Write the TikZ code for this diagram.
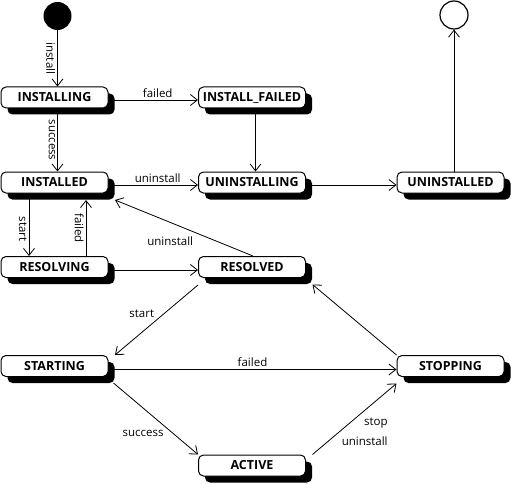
\documentclass[tikz,border=0pt]{standalone}
\usepackage{fontspec}
\usepackage{tikz}
\usetikzlibrary{shadows}
\usetikzlibrary{arrows.meta,arrows}
\setmainfont{Open Sans}

\tikzset{
  bundlestate/.style={draw, line width=1pt, fill=white, rounded corners=5pt,
    minimum width=107pt, minimum height=21pt, inner sep=0pt,
    font=\fontsize{12.5}{14}\selectfont\bfseries,
    drop shadow={shadow xshift=6.5pt, shadow yshift=-6.5pt, fill=black, opacity=1}},
  initstate/.style={circle, fill=black, minimum size=28pt, inner sep=0pt},
  finalstate/.style={circle, draw, line width=1.2pt, fill=white, minimum size=28pt, inner sep=0pt},
  transition/.style={-{Straight Barb[length=7pt,width=11pt]}, line width=0.8pt},
  trlabel/.style={font=\fontsize{11.5}{13}\selectfont, inner sep=2pt},
  vlabel/.style={trlabel, rotate=-90, anchor=north},
}

\begin{document}
\begin{tikzpicture}[x=1pt, y=-1pt]
\useasboundingbox (0,0) rectangle (511,484);

\node[initstate] (init) at (57.5,16) {};
\node[finalstate] (final) at (454,15) {};
\node[bundlestate] (installing) at (54.5,97.5) {INSTALLING};
\node[bundlestate] (installfailed) at (252,97.5) {INSTALL\_FAILED};
\node[bundlestate] (installed) at (54.5,182.5) {INSTALLED};
\node[bundlestate] (uninstalling) at (252,182.5) {UNINSTALLING};
\node[bundlestate] (uninstalled) at (450.5,182.5) {UNINSTALLED};
\node[bundlestate] (resolving) at (54.5,267) {RESOLVING};
\node[bundlestate] (resolved) at (252,267) {RESOLVED};
\node[bundlestate] (starting) at (54.5,366) {STARTING};
\node[bundlestate] (stopping) at (450.5,366) {STOPPING};
\node[bundlestate] (active) at (252,465.5) {ACTIVE};

% install / uninstall
\draw[transition] (init) -- (installing.north -| init) node[vlabel, midway] {install};
\draw[transition] (installing.south -| init) -- (installed.north -| init) node[vlabel, midway] {success};
\draw[transition] ([yshift=-2.5pt]installing.east) -- ([yshift=-2.5pt]installfailed.west) node[trlabel, pos=0.55, above] {failed};
\draw[transition] ([xshift=3.5pt]installfailed.south) -- ([xshift=3.5pt]uninstalling.north);
\draw[transition] ([yshift=-2.5pt]installed.east) -- ([yshift=-2.5pt]uninstalling.west) node[trlabel, pos=0.55, above] {uninstall};
\draw[transition] ([yshift=-2.5pt]uninstalling.east) -- ([yshift=-2.5pt]uninstalled.west);
\draw[transition] (uninstalled.north -| final) -- (final);

% resolve
\draw[transition] ([xshift=-25.5pt]installed.south) -- ([xshift=-25.5pt]resolving.north) node[vlabel, pos=0.57] {start};
\draw[transition] ([xshift=31.5pt]resolving.north) -- ([xshift=31.5pt,yshift=-6.5pt]installed.south) node[vlabel, midway] {failed};
\draw[transition] ([yshift=-3pt]resolving.east) -- ([yshift=-3pt]resolved.west);
\draw[transition] ([xshift=1pt]resolved.north) -- ([xshift=6.5pt,yshift=-6.5pt]installed.south east) node[trlabel, pos=0.6, below=12pt] {uninstall};

% start / stop
\draw[transition] ([yshift=-7pt]resolved.south west) -- ([xshift=6.5pt]starting.north east) node[trlabel, midway, above left=0pt] {start};
\draw[transition] ([yshift=-3.5pt]starting.east) -- ([yshift=-3.5pt]stopping.west) node[trlabel, midway, above] {failed};
\draw[transition] (stopping.north west) -- ([xshift=6.5pt,yshift=-6.5pt]resolved.south east);
\draw[transition] ([xshift=5pt,yshift=-6pt]starting.south east) -- (active.north west) node[trlabel, pos=0.62, below left=0pt] {success};
\draw[transition] ([xshift=6.5pt]active.north east) -- ([yshift=-6.5pt]stopping.south west) node[trlabel, pos=0.32, right=0pt, align=right, font=\fontsize{11.5}{20}\selectfont] {stop\\uninstall};
\end{tikzpicture}
\end{document}
